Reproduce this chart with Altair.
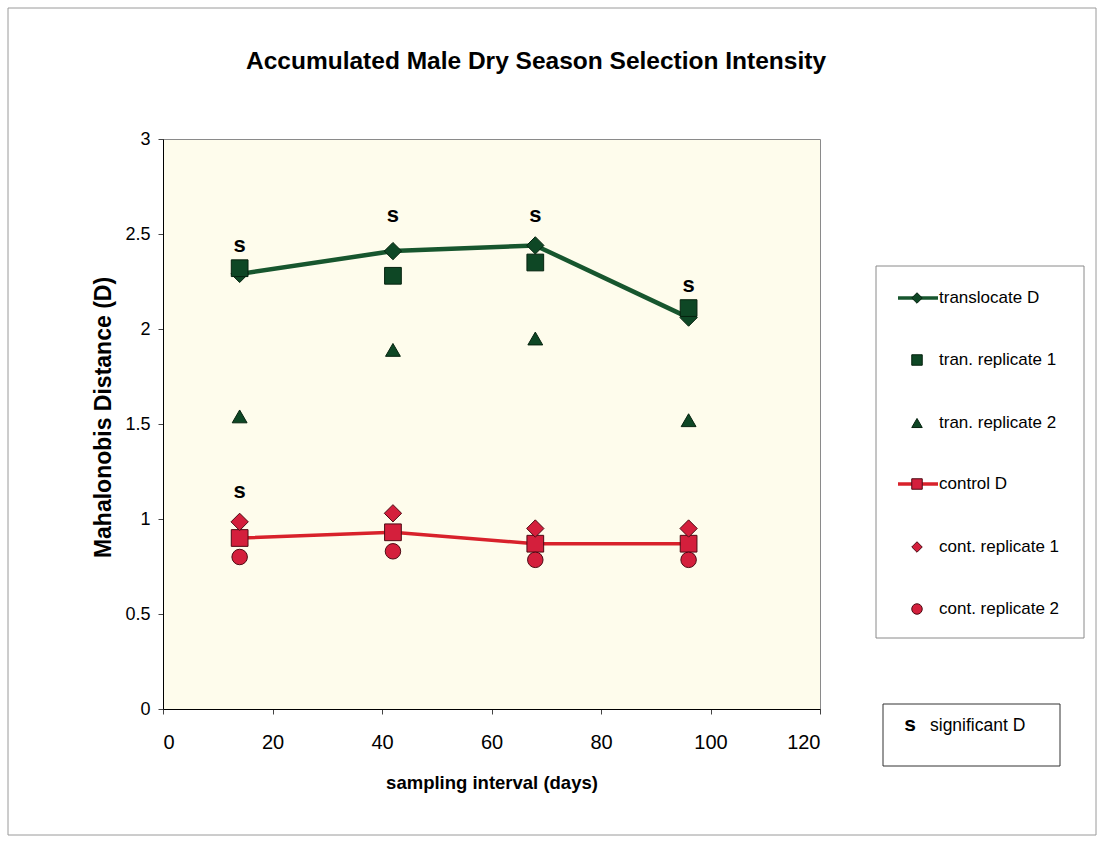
import altair as alt
import pandas as pd

# Sampling days and accumulated Mahalonobis distances
days = [14, 42, 68, 96]
translocate_d = [2.29, 2.41, 2.44, 2.06]
tran_rep1 = [2.32, 2.28, 2.35, 2.11]
tran_rep2 = [1.54, 1.89, 1.95, 1.52]
control_d = [0.90, 0.93, 0.87, 0.87]
cont_rep1 = [0.985, 1.03, 0.95, 0.95]
cont_rep2 = [0.80, 0.83, 0.785, 0.785]

# "s" markers for significant D (label series)
sig_days = [14, 42, 68, 96, 14]
sig_y = [2.44, 2.60, 2.60, 2.23, 1.15]

legend_names = ["translocate D", "tran. replicate 1", "tran. replicate 2",
                "control D", "cont. replicate 1", "cont. replicate 2"]
x_ticks = [0, 20, 40, 60, 80, 100, 120]
y_ticks = [0, 0.5, 1, 1.5, 2, 2.5, 3]

W, H = 657, 570
NARROW = "Liberation Sans Narrow, Arial Narrow, Liberation Sans, Arial"
ARIAL = "Liberation Sans, Arial"

GREEN_LINE = "#17562e"
GREEN_FILL = "#0e4725"
GREEN_EDGE = "#06230f"
RED_LINE = "#d8212b"
RED_FILL = "#d41f3c"
RED_EDGE = "#4d0b14"

xs = alt.Scale(domain=[0, 120], nice=False)
ys = alt.Scale(domain=[0, 3], nice=False)

x_enc = alt.X(
    "day:Q", scale=xs,
    axis=alt.Axis(values=x_ticks, title="sampling interval (days)", grid=False,
                  domainColor="black", tickColor="#444", tickSize=5,
                  labelFont=NARROW, labelFontSize=20, labelColor="black", labelPadding=18,
                  titleFont=NARROW, titleFontSize=18.5, titleFontWeight="bold", titleColor="black",
                  titleX=W / 2, titleY=73, titleBaseline="middle"))
y_enc = alt.Y(
    "value:Q", scale=ys,
    axis=alt.Axis(values=y_ticks, format="~g", title="Mahalonobis Distance (D)", grid=False,
                  domainColor="black", tickColor="#444", tickSize=5,
                  labelFont=ARIAL, labelFontSize=18, labelColor="black", labelPadding=8,
                  titleFont=ARIAL, titleFontSize=23, titleFontWeight="bold", titleColor="black",
                  titleX=-60, titleY=H / 2 - 7, titleAngle=270, titleAlign="center",
                  titleBaseline="middle"))


def frame(vals):
    return pd.DataFrame({"day": days, "value": vals})


def points(vals, shape, size, fill, edge):
    return alt.Chart(frame(vals)).mark_point(
        shape=shape, size=size, filled=True, fill=fill, stroke=edge,
        strokeWidth=1, opacity=1
    ).encode(x=x_enc, y=y_enc)


# Outer frame of the figure
outer = alt.Chart(pd.DataFrame({"k": [0]})).mark_rect(
    fill=None, stroke="#9a9a9a", strokeWidth=1
).encode(x=alt.value(-155), x2=alt.value(933), y=alt.value(-131), y2=alt.value(696))

title = alt.Chart(pd.DataFrame({"t": ["Accumulated Male Dry Season Selection Intensity"]})).mark_text(
    font=NARROW, fontSize=24.5, fontWeight="bold", color="black", baseline="middle", align="center"
).encode(x=alt.value(373), y=alt.value(-77), text="t:N")

trans_line = alt.Chart(frame(translocate_d)).mark_line(
    color=GREEN_LINE, strokeWidth=4.5).encode(x=x_enc, y=y_enc)
ctrl_line = alt.Chart(frame(control_d)).mark_line(
    color=RED_LINE, strokeWidth=3.5).encode(x=x_enc, y=y_enc)

sig = alt.Chart(pd.DataFrame({"day": sig_days, "value": sig_y, "s": ["s"] * len(sig_days)})).mark_text(
    font=ARIAL, fontSize=22, fontWeight="bold", color="black", baseline="middle"
).encode(x=x_enc, y=y_enc, text="s:N")

# Legend box
leg_rows = [159, 221, 284, 345, 408, 470]
leg_shapes = ["diamond", "square", "triangle-up", "square", "diamond", "circle"]
leg_fill = [GREEN_FILL, GREEN_FILL, GREEN_FILL, RED_FILL, RED_FILL, RED_FILL]
leg_edge = [GREEN_EDGE, GREEN_EDGE, GREEN_EDGE, RED_EDGE, RED_EDGE, RED_EDGE]
leg_df = pd.DataFrame({"name": legend_names, "ly": leg_rows, "shape": leg_shapes,
                       "fill": leg_fill, "edge": leg_edge})
line_df = pd.DataFrame({"ly": [leg_rows[0], leg_rows[3]], "c": [GREEN_LINE, RED_LINE]})

leg_box = alt.Chart(pd.DataFrame({"k": [0]})).mark_rect(
    fill="white", stroke="#8a8a8a", strokeWidth=1
).encode(x=alt.value(713), x2=alt.value(921), y=alt.value(127), y2=alt.value(499))
leg_lines = alt.Chart(line_df).mark_rule(strokeWidth=3.5).encode(
    x=alt.value(735), x2=alt.value(775),
    y=alt.Y("ly:Q", scale=None), color=alt.Color("c:N", scale=None))
leg_syms = alt.Chart(leg_df).mark_point(filled=True, size=110, strokeWidth=1, opacity=1).encode(
    x=alt.value(754), y=alt.Y("ly:Q", scale=None),
    shape=alt.Shape("shape:N", scale=None),
    fill=alt.Fill("fill:N", scale=None), stroke=alt.Stroke("edge:N", scale=None))
leg_text = alt.Chart(leg_df).mark_text(
    font=NARROW, fontSize=17, color="black", align="left", baseline="middle"
).encode(x=alt.value(776), y=alt.Y("ly:Q", scale=None), text="name:N")

# Key for the "s" markers
sig_box = alt.Chart(pd.DataFrame({"k": [0]})).mark_rect(
    fill="white", stroke="#333", strokeWidth=1
).encode(x=alt.value(720), x2=alt.value(897), y=alt.value(565), y2=alt.value(627))
sig_key_s = alt.Chart(pd.DataFrame({"t": ["s"]})).mark_text(
    font=ARIAL, fontSize=21, fontWeight="bold", color="black", align="center", baseline="middle"
).encode(x=alt.value(747), y=alt.value(586), text="t:N")
sig_key_t = alt.Chart(pd.DataFrame({"t": ["significant D"]})).mark_text(
    font=NARROW, fontSize=17.5, color="black", align="left", baseline="middle"
).encode(x=alt.value(767), y=alt.value(587), text="t:N")

chart = alt.layer(
    outer, title,
    trans_line,
    points(translocate_d, "diamond", 300, GREEN_FILL, GREEN_EDGE),
    points(tran_rep1, "square", 280, GREEN_FILL, GREEN_EDGE),
    points(tran_rep2, "triangle-up", 220, GREEN_FILL, GREEN_EDGE),
    ctrl_line,
    points(control_d, "square", 280, RED_FILL, RED_EDGE),
    points(cont_rep1, "diamond", 300, RED_FILL, RED_EDGE),
    points(cont_rep2, "circle", 240, RED_FILL, RED_EDGE),
    sig,
    leg_box, leg_lines, leg_syms, leg_text,
    sig_box, sig_key_s, sig_key_t,
).properties(
    width=W, height=H,
    padding={"left": 163, "top": 139, "right": 280, "bottom": 129},
    autosize=alt.AutoSizeParams(type="none"),
    background="white",
).configure_view(
    fill="#fefcec", stroke="#8a8a8a", strokeWidth=1
)

chart.save("out.html", embed_options={"renderer": "svg", "actions": False})
